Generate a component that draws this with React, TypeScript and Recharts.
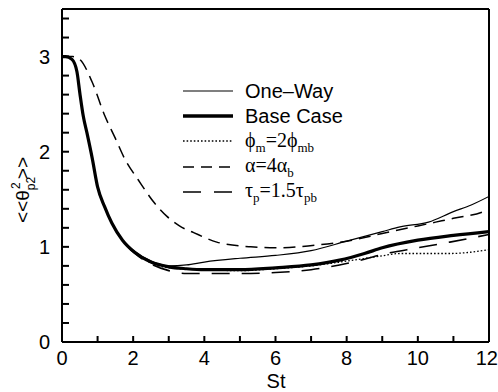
import { LineChart, Line, XAxis, YAxis, Legend } from 'recharts';

const FONT = '"Liberation Sans", Arial, Helvetica, sans-serif';
const SERIF = '"Liberation Serif", "Times New Roman", "DejaVu Serif", serif';

const xTicks = [0, 1, 2, 3, 4, 5, 6, 7, 8, 9, 10, 11, 12];
const yTicks = [0, 0.2, 0.4, 0.6, 0.8, 1, 1.2, 1.4, 1.6, 1.8, 2, 2.2, 2.4, 2.6, 2.8, 3, 3.2, 3.4];

// Base Case (thick solid)
const baseSt = [0, 0.1, 0.28, 0.42, 0.5, 0.6, 0.7, 0.85, 1.0, 1.2, 1.4, 1.7, 2.05, 2.5, 3.0, 3.5, 4, 5, 6, 7, 7.8, 8.5, 9, 10, 11, 12];
const baseVal = [3.0, 3.0, 2.97, 2.84, 2.62, 2.37, 2.2, 1.93, 1.63, 1.42, 1.25, 1.07, 0.94, 0.84, 0.79, 0.77, 0.76, 0.76, 0.78, 0.81, 0.86, 0.93, 0.99, 1.07, 1.12, 1.16];

// One-Way (thin solid)
const oneWaySt = [0, 0.1, 0.28, 0.42, 0.5, 0.6, 0.7, 0.85, 1.0, 1.2, 1.4, 1.7, 2.05, 2.5, 3.0, 3.5, 4, 5, 6, 7, 8, 9, 9.5, 10.3, 11, 11.5, 12];
const oneWayVal = [3.0, 3.0, 2.97, 2.84, 2.62, 2.37, 2.2, 1.93, 1.63, 1.42, 1.25, 1.07, 0.95, 0.85, 0.8, 0.81, 0.84, 0.88, 0.91, 0.96, 1.06, 1.16, 1.21, 1.26, 1.37, 1.44, 1.53];

// phi_m = 2 phi_mb (dotted)
const phiSt = [0, 0.1, 0.28, 0.42, 0.5, 0.6, 0.7, 0.85, 1.0, 1.2, 1.4, 1.7, 2.05, 2.5, 3.0, 4, 5, 6, 7, 8, 8.9, 9.5, 10, 10.9, 12];
const phiVal = [3.0, 3.0, 2.97, 2.84, 2.62, 2.37, 2.2, 1.93, 1.63, 1.42, 1.25, 1.07, 0.94, 0.83, 0.78, 0.76, 0.75, 0.77, 0.8, 0.85, 0.9, 0.93, 0.93, 0.93, 0.97];

// alpha = 4 alpha_b (short dash)
const alphaSt = [0, 0.3, 0.5, 0.85, 1.2, 1.5, 1.77, 2.15, 2.6, 2.95, 3.3, 3.7, 4.35, 5.3, 6, 7.2, 8, 9, 10, 10.5, 11, 11.9, 12];
const alphaVal = [3.0, 3.0, 2.97, 2.73, 2.38, 2.14, 1.92, 1.7, 1.46, 1.32, 1.22, 1.15, 1.05, 1.0, 0.99, 1.02, 1.06, 1.14, 1.22, 1.26, 1.3, 1.38, 1.4];

// tau_p = 1.5 tau_pb (long dash)
const tauSt = [0, 0.1, 0.28, 0.42, 0.5, 0.6, 0.7, 0.85, 1.0, 1.2, 1.4, 1.7, 2.05, 2.5, 3.0, 3.5, 4, 5, 6, 7, 7.8, 8.5, 9, 10, 10.9, 12];
const tauVal = [3.0, 3.0, 2.97, 2.84, 2.62, 2.37, 2.2, 1.93, 1.63, 1.42, 1.25, 1.07, 0.93, 0.82, 0.75, 0.72, 0.72, 0.72, 0.73, 0.76, 0.81, 0.87, 0.92, 0.99, 1.05, 1.13];

const toPoints = (st: number[], val: number[]) => st.map((s, i) => ({ st: s, v: val[i] }));

const series = [
  { key: 'base', data: toPoints(baseSt, baseVal), width: 3.2, dash: undefined },
  { key: 'oneWay', data: toPoints(oneWaySt, oneWayVal), width: 1.2, dash: undefined },
  { key: 'phi', data: toPoints(phiSt, phiVal), width: 1.3, dash: '1.6 2' },
  { key: 'alpha', data: toPoints(alphaSt, alphaVal), width: 1.5, dash: '12 7' },
  { key: 'tau', data: toPoints(tauSt, tauVal), width: 1.6, dash: '18 12' },
];

const sub = (t: string) => (
  <sub style={{ fontSize: 13, verticalAlign: 'baseline', position: 'relative', top: 5 }}>{t}</sub>
);

// legend rows, top to bottom
const legendRows = [
  { key: 'oneWay', width: 1.2, dash: undefined, label: <span style={{ fontFamily: FONT }}>One–Way</span> },
  { key: 'base', width: 3.4, dash: undefined, label: <span style={{ fontFamily: FONT }}>Base Case</span> },
  { key: 'phi', width: 1.3, dash: '1.6 2', label: <span style={{ fontFamily: SERIF }}>ϕ{sub('m')}=2ϕ{sub('mb')}</span> },
  { key: 'alpha', width: 1.5, dash: '11 7', label: <span style={{ fontFamily: SERIF }}>α=4α{sub('b')}</span> },
  { key: 'tau', width: 1.6, dash: '18 13', label: <span style={{ fontFamily: SERIF }}>τ{sub('p')}=1.5τ{sub('pb')}</span> },
];

function LegendBox() {
  return (
    <div>
      {legendRows.map((r) => (
        <div key={r.key} style={{ display: 'flex', alignItems: 'center', height: 25.3 }}>
          <svg width={50} height={8} style={{ display: 'block' }}>
            <line x1={0} y1={4} x2={50} y2={4} stroke="#000" strokeWidth={r.width} strokeDasharray={r.dash} />
          </svg>
          <div style={{ marginLeft: 12, fontSize: 20, color: '#000', lineHeight: '20px', whiteSpace: 'nowrap' }}>{r.label}</div>
        </div>
      ))}
    </div>
  );
}

const isInt = (v: number) => Math.abs(v - Math.round(v)) < 1e-6;
const AXIS_LINE = { stroke: '#000', strokeWidth: 2 };
const TL = 6; // inward tick length

function BottomTick({ x, y, payload }: any) {
  const v = payload.value;
  const last = v === 12;
  return (
    <g>
      <line x1={x} y1={y} x2={x} y2={y - TL} stroke="#000" strokeWidth={2} />
      {v % 2 === 0 && (
        <text x={last ? x + 9 : x} y={y + 23} textAnchor={last ? 'end' : 'middle'} fontSize={20} fontFamily={FONT} fill="#000">{v}</text>
      )}
    </g>
  );
}

function TopTick({ x, y }: any) {
  return <line x1={x} y1={y} x2={x} y2={y + TL} stroke="#000" strokeWidth={2} />;
}

function LeftTick({ x, y, payload }: any) {
  const v = payload.value;
  return (
    <g>
      <line x1={x} y1={y} x2={x + TL + 1} y2={y} stroke="#000" strokeWidth={2} />
      {isInt(v) && (
        <text x={x - 12} y={y + 7} textAnchor="end" fontSize={20} fontFamily={FONT} fill="#000">{Math.round(v)}</text>
      )}
    </g>
  );
}

function RightTick({ x, y }: any) {
  return <line x1={x} y1={y} x2={x - TL - 1} y2={y} stroke="#000" strokeWidth={2} />;
}

function XLabel() {
  return (
    <text x={276} y={388} textAnchor="middle" fontSize={20} fontFamily={FONT} fill="#000">St</text>
  );
}

function YLabel() {
  return (
    <text transform="translate(29,190) rotate(-90)" textAnchor="middle" fontSize={19} fontFamily={FONT} fill="#000">
      {'<<θ'}
      <tspan fontSize={12} dy={6}>p2</tspan>
      <tspan fontSize={12} dx={-12} dy={-15}>2</tspan>
      <tspan fontSize={19} dx={3} dy={9}>{'>>'}</tspan>
    </text>
  );
}

export default function App() {
  return (
    <div style={{ position: 'absolute', left: 0, top: 0, background: '#fff' }}>
      <LineChart width={498} height={392} margin={{ top: 8, right: 8, bottom: 0, left: 0 }}>
        <XAxis
          xAxisId="b"
          dataKey="st"
          type="number"
          domain={[0, 12]}
          ticks={xTicks}
          interval={0}
          height={50}
          tickSize={0}
          tickMargin={0}
          tickLine={false}
          axisLine={AXIS_LINE}
          tick={<BottomTick />}
          label={<XLabel />}
          allowDataOverflow
        />
        <XAxis
          xAxisId="t"
          orientation="top"
          dataKey="st"
          type="number"
          domain={[0, 12]}
          ticks={xTicks}
          interval={0}
          height={1}
          tickSize={0}
          tickMargin={0}
          tickLine={false}
          axisLine={AXIS_LINE}
          tick={<TopTick />}
        />
        <YAxis
          yAxisId="l"
          type="number"
          domain={[0, 3.5]}
          ticks={yTicks}
          interval={0}
          width={62}
          tickSize={0}
          tickMargin={0}
          tickLine={false}
          axisLine={AXIS_LINE}
          tick={<LeftTick />}
          label={<YLabel />}
          allowDataOverflow
        />
        <YAxis
          yAxisId="r"
          orientation="right"
          type="number"
          domain={[0, 3.5]}
          ticks={yTicks}
          interval={0}
          width={1}
          tickSize={0}
          tickMargin={0}
          tickLine={false}
          axisLine={AXIS_LINE}
          tick={<RightTick />}
        />
        {series.map((s) => (
          <Line
            key={s.key}
            xAxisId="b"
            yAxisId="l"
            data={s.data}
            dataKey="v"
            type="monotone"
            stroke="#000"
            strokeWidth={s.width}
            strokeDasharray={s.dash}
            dot={false}
            activeDot={false}
            isAnimationActive={false}
          />
        ))}
        <Legend
          layout="vertical"
          align="center"
          verticalAlign="middle"
          wrapperStyle={{ left: 183, top: 78 }}
          content={<LegendBox />}
        />
      </LineChart>
    </div>
  );
}
